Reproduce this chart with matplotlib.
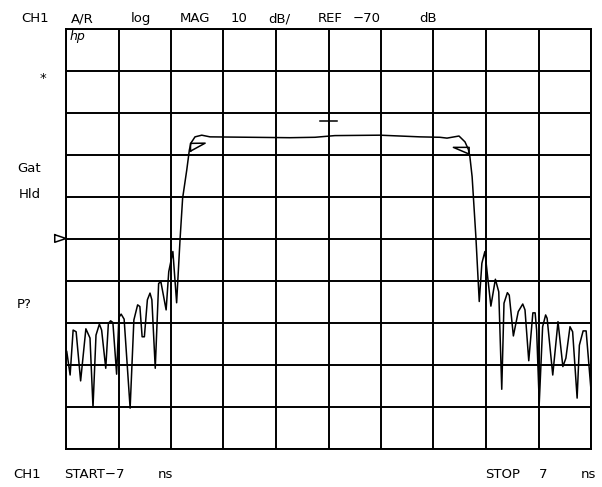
import numpy as np
import matplotlib.pyplot as plt

# trace: time (ns) and magnitude (dB)
t_ns = [-6.98, -6.89, -6.81, -6.73, -6.61, -6.47, -6.36, -6.28, -6.20, -6.11,
        -6.05, -5.94, -5.87, -5.81, -5.75, -5.65, -5.59, -5.53, -5.45, -5.29,
        -5.19, -5.09, -5.03, -4.97, -4.91, -4.83, -4.76, -4.71, -4.62, -4.53,
        -4.47, -4.33, -4.26, -4.15, -4.05, -3.96, -3.89, -3.78, -3.71, -3.67,
        -3.56, -3.38, -3.16, -2.09, -1.03, -0.36, 0.17, 1.37, 2.44, 2.97,
        3.16, 3.48, 3.64, 3.73, 3.77, 3.83, 3.93, 4.02, 4.09, 4.17,
        4.33, 4.45, 4.54, 4.62, 4.68, 4.77, 4.82, 4.93, 5.06, 5.18,
        5.24, 5.34, 5.45, 5.51, 5.55, 5.62, 5.71, 5.79, 5.83, 5.98,
        6.12, 6.25, 6.33, 6.44, 6.51, 6.63, 6.69, 6.79, 6.87, 7.00]
mag_db = [-96.9, -102.5, -91.8, -92.2, -103.9, -91.5, -93.7, -110.2, -93.0, -90.4,
          -91.8, -100.9, -90.2, -89.6, -90.0, -102.3, -88.8, -88.0, -89.2, -110.4,
          -89.4, -85.8, -86.2, -93.4, -93.4, -84.6, -83.0, -84.6, -100.9, -80.7,
          -80.3, -87.0, -77.9, -73.1, -85.3, -70.4, -60.4, -53.7, -48.9, -47.3,
          -45.8, -45.4, -45.8, -45.9, -46.0, -45.9, -45.5, -45.4, -45.8, -45.9,
          -46.1, -45.6, -47.0, -48.8, -50.5, -55.3, -69.6, -85.0, -75.9, -73.1,
          -86.1, -79.7, -82.7, -105.9, -85.4, -82.9, -83.5, -93.2, -87.4, -85.6,
          -87.0, -99.1, -87.7, -87.7, -91.8, -109.2, -91.0, -88.2, -89.0, -102.5,
          -89.8, -100.5, -98.5, -91.0, -92.2, -108.0, -95.4, -92.0, -92.0, -106.1]

ref_db = -70
scale_db = 10
start_ns, stop_ns = -7, 7

# markers: active marker (bar) and two delta triangles
active_t, active_db = 0.0, -42.0
tri_left = (-3.68, -49.2)
tri_right = (3.75, -49.9)

W, H = 602, 487
fig = plt.figure(figsize=(W / 100, H / 100), dpi=100)
ax = fig.add_axes([66 / W, 1 - 448.5 / H, 525 / W, 420 / H])

top_db = ref_db + 5 * scale_db
bot_db = ref_db - 5 * scale_db
ax.set_xlim(start_ns, stop_ns)
ax.set_ylim(bot_db, top_db)
ax.set_xticks(np.linspace(start_ns, stop_ns, 11))
ax.set_yticks(np.arange(bot_db, top_db + 1, scale_db))
ax.tick_params(length=0, labelbottom=False, labelleft=False)
ax.grid(True, color='black', linewidth=1.4)
for s in ax.spines.values():
    s.set_linewidth(1.4)

ax.plot(t_ns, mag_db, color='black', linewidth=1.1)

# marker symbols
ax.plot([active_t - 0.23, active_t + 0.23], [active_db, active_db], color='black', lw=1.1)
tx, ty = tri_left
ax.plot([tx, tx, tx + 0.39, tx], [ty, ty + 1.85, ty + 1.9, ty], color='black', lw=1.1)
tx, ty = tri_right
ax.plot([tx, tx, tx - 0.42, tx], [ty, ty + 1.6, ty + 1.6, ty], color='black', lw=1.1)

# reference level pointer
ax.plot([-7.3, -7.0, -7.3, -7.3], [ref_db + 0.9, ref_db, ref_db - 0.9, ref_db + 0.9],
        color='black', lw=1.1, clip_on=False)

ax.text(4 / 525, 1 - 11.5 / 420, 'hp', style='italic', fontsize=9,
        ha='left', va='baseline', transform=ax.transAxes)


def px(x, y, s, **kw):
    fig.text(x / W, 1 - y / H, s, fontsize=9.5, va='baseline', ha='left', **kw)


for x, s in [(21, 'CH1'), (71, 'A/R'), (131, 'log'), (180, 'MAG'), (231, '10'),
             (268, 'dB/'), (318, 'REF'), (353, '\u221270'), (419, 'dB')]:
    px(x, 22, s)

for x, s in [(13, 'CH1'), (64, 'START\u22127'), (158, 'ns'),
             (485, 'STOP'), (539, '7'), (581, 'ns')]:
    px(x, 478.5, s)

px(17, 171.5, 'Gat')
px(19, 198.3, 'Hld')
px(17, 308, 'P?')
px(40, 82, '*')

fig.savefig('out.png', dpi=100)
